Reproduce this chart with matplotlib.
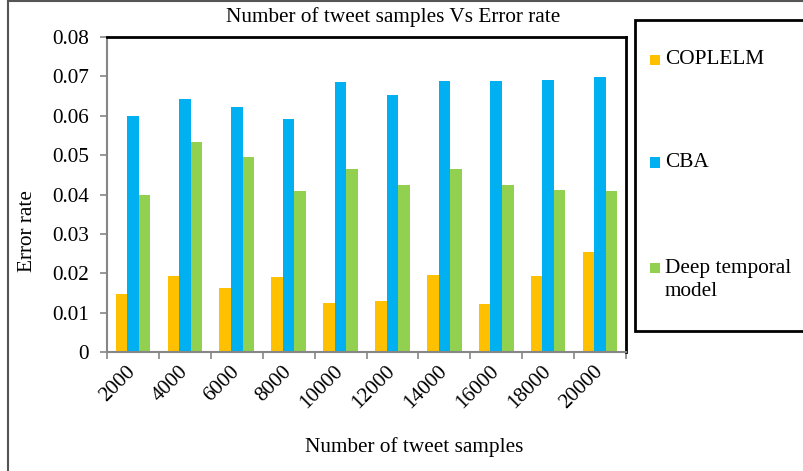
import numpy as np
import matplotlib
matplotlib.use("Agg")
import matplotlib.pyplot as plt
from matplotlib.patches import Rectangle
from matplotlib.lines import Line2D

plt.rcParams['font.family'] = ['Liberation Serif', 'DejaVu Serif']

samples = ["2000", "4000", "6000", "8000", "10000", "12000", "14000", "16000", "18000", "20000"]
coplelm = [0.0148, 0.0193, 0.0163, 0.0191, 0.0125, 0.0130, 0.0195, 0.0121, 0.0192, 0.0253]
cba = [0.0599, 0.0643, 0.0621, 0.0593, 0.0686, 0.0653, 0.0687, 0.0688, 0.0690, 0.0698]
deep = [0.0399, 0.0533, 0.0494, 0.0410, 0.0466, 0.0424, 0.0465, 0.0424, 0.0411, 0.0410]

series_names = ["COPLELM", "CBA", "Deep temporal\nmodel"]
colors = ["#FFC000", "#00B0F0", "#92D050"]
fs = 15.3
gray = "#868686"

fig = plt.figure(figsize=(8.04, 4.71), dpi=100)
W, H = 804, 471
ax = fig.add_axes([107 / W, 1 - 352 / H, 519 / W, 315 / H])

x = np.arange(len(samples))
w = 0.222
for i, vals in enumerate([coplelm, cba, deep]):
    ax.bar(x + (i - 1) * w, vals, w, color=colors[i], edgecolor="none")

ax.set_xlim(-0.5, len(samples) - 0.5)
ax.set_ylim(0, 0.08)
ax.set_yticks(np.arange(0, 0.081, 0.01))
ax.set_yticklabels(["0"] + ["%.2f" % v for v in np.arange(0.01, 0.081, 0.01)], fontsize=fs)
ax.tick_params(axis="y", length=5, width=1.2, color=gray, pad=8)

ax.set_xticks(x)
ax.set_xticklabels(samples, fontsize=fs, rotation=45, ha="right", va="center",
                   rotation_mode="anchor")
ax.tick_params(axis="x", which="major", length=0, pad=12)
ax.set_xticks(np.arange(-0.5, len(samples), 1), minor=True)
ax.tick_params(axis="x", which="minor", length=5, width=1.2, color=gray)

for s in ["left", "bottom"]:
    ax.spines[s].set_color(gray)
    ax.spines[s].set_linewidth(1.5)
for s in ["top", "right"]:
    ax.spines[s].set_color("black")
    ax.spines[s].set_linewidth(2)

fig.text(393.5 / W, 1 - 17 / H, "Number of tweet samples Vs Error rate",
         fontsize=fs, ha="center", va="center")
fig.text(414 / W, 1 - 447 / H, "Number of tweet samples",
         fontsize=fs, ha="center", va="center")
fig.text(28 / W, 1 - 231 / H, "Error rate", fontsize=fs, rotation=90,
         ha="center", va="center")

# legend box
fig.patches.append(Rectangle((635 / W, 1 - 331 / H), 200 / W, 311 / H,
                             transform=fig.transFigure, facecolor="white",
                             edgecolor="black", linewidth=2))
leg_y = [60, 163, 268]
for name, c, yy in zip(series_names, colors, leg_y):
    fig.patches.append(Rectangle((650 / W, 1 - (yy + 5) / H), 10.5 / W, 10.5 / H,
                                 transform=fig.transFigure, facecolor=c,
                                 edgecolor="none"))
    for k, line in enumerate(name.split("\n")):
        fig.text(665 / W, 1 - (yy + 24 * k) / H, line, fontsize=fs,
                 ha="left", va="center")

# outer frame lines
fig.add_artist(Line2D([8 / W, 8 / W], [0, 1], transform=fig.transFigure,
                      color="#555555", linewidth=1.5))
fig.add_artist(Line2D([8 / W, 1], [1 - 1 / H, 1 - 1 / H], transform=fig.transFigure,
                      color="#555555", linewidth=1.5))

fig.savefig("out.png", dpi=100)
